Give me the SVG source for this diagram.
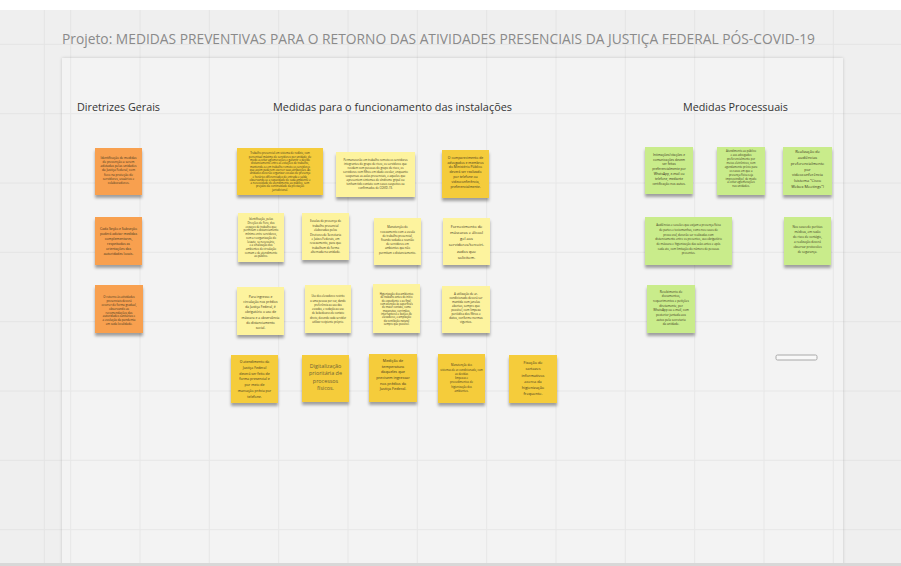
<svg xmlns="http://www.w3.org/2000/svg" width="901" height="566" viewBox="0 0 901 566">
<defs>
<style>
.o{fill:#f8a04f}.d{fill:#f5cc3a}.l{fill:#fdf39e}.g{fill:#c9ec8b}
.n{filter:url(#sh)}
.t{font-family:"Open Sans","DejaVu Sans",sans-serif;fill:#3b3421;text-anchor:middle}
.h{font-family:"Open Sans","DejaVu Sans",sans-serif;fill:#333;font-size:11.5px}
.grid{stroke:#e4e4e4;stroke-width:1}
</style>
<filter id="sh" x="-20%" y="-20%" width="140%" height="160%"><feDropShadow dx="0" dy="3" stdDeviation="1.6" flood-color="#000" flood-opacity="0.35"/></filter>
<filter id="bsh" x="-5%" y="-5%" width="110%" height="110%"><feDropShadow dx="0" dy="0" stdDeviation="1.5" flood-color="#000" flood-opacity="0.18"/></filter>
</defs>
<rect x="0" y="0" width="901" height="566" fill="#efefef"/>
<rect x="0" y="0" width="901" height="10" fill="#ffffff"/>
<g id="grid" class="grid">
<path d="M70.7 10V566M140 10V566M209.3 10V566M278.7 10V566M348 10V566M417.3 10V566M486.7 10V566M556 10V566M625.3 10V566M694.7 10V566M764 10V566M833.3 10V566M44.3 10V566"/>
<path d="M0 44.3H901M0 113.7H901M0 183H901M0 252.3H901M0 321.7H901M0 391H901M0 460.3H901M0 529.7H901"/>
</g>
<text x="62" y="44" font-family="Open Sans, DejaVu Sans, sans-serif" font-size="15" fill="#8a8a8a" textLength="753" lengthAdjust="spacingAndGlyphs">Projeto: MEDIDAS PREVENTIVAS PARA O RETORNO DAS ATIVIDADES PRESENCIAIS DA JUSTIÇA FEDERAL PÓS-COVID-19</text>
<g id="board">
<rect x="62" y="58" width="781" height="520" fill="#f3f3f3" filter="url(#bsh)"/>
<g class="grid" opacity="0.8">
<path d="M70.7 58V566M140 58V566M209.3 58V566M278.7 58V566M348 58V566M417.3 58V566M486.7 58V566M556 58V566M625.3 58V566M694.7 58V566M764 58V566M833.3 58V566"/>
<path d="M62 113.7H843M62 183H843M62 252.3H843M62 321.7H843M62 391H843M62 460.3H843M62 529.7H843"/>
</g>
</g>
<rect x="0" y="563" width="901" height="3" fill="#d8d8d8"/>
<g id="headers">
<text class="h" x="77" y="111" textLength="83" lengthAdjust="spacingAndGlyphs">Diretrizes Gerais</text>
<text class="h" x="273" y="111" textLength="239" lengthAdjust="spacingAndGlyphs">Medidas para o funcionamento das instalações</text>
<text class="h" x="683" y="111" textLength="105" lengthAdjust="spacingAndGlyphs">Medidas Processuais</text>
</g>
<g id="connectors"></g>

<g id="o1"><rect class="n o" x="95" y="148" width="47" height="47"/>
<text class="t" font-size="3.1" x="118.5" y="158.5"><tspan x="118.5">Identificação de medidas</tspan><tspan x="118.5" dy="4.3">de prevenção a serem</tspan><tspan x="118.5" dy="4.3">adotadas pelas unidades</tspan><tspan x="118.5" dy="4.3">da Justiça Federal, com</tspan><tspan x="118.5" dy="4.3">foco na proteção de</tspan><tspan x="118.5" dy="4.3">servidores, usuários e</tspan><tspan x="118.5" dy="4.3">colaboradores.</tspan></text></g>
<g id="o2"><rect class="n o" x="95" y="217" width="47" height="48"/>
<text class="t" font-size="3.4" x="118.5" y="229.8"><tspan x="118.5">Cada Seção e Subseção</tspan><tspan x="118.5" dy="5">poderá adotar medidas</tspan><tspan x="118.5" dy="5">complementares,</tspan><tspan x="118.5" dy="5">respeitadas as</tspan><tspan x="118.5" dy="5">orientações das</tspan><tspan x="118.5" dy="5">autoridades locais.</tspan></text></g>
<g id="o3"><rect class="n o" x="95" y="285" width="48" height="48"/>
<text class="t" font-size="2.9" x="119" y="298.4"><tspan x="119">O retorno às atividades</tspan><tspan x="119" dy="3.8">presenciais deverá</tspan><tspan x="119" dy="3.8">ocorrer de forma gradual,</tspan><tspan x="119" dy="3.8">observando as</tspan><tspan x="119" dy="3.8">recomendações das</tspan><tspan x="119" dy="3.8">autoridades sanitárias e</tspan><tspan x="119" dy="3.8">a evolução da pandemia</tspan><tspan x="119" dy="3.8">em cada localidade.</tspan></text></g>

<g id="y1"><rect class="n d" x="237" y="148" width="86" height="47"/>
<text class="t" font-size="2.7" x="280" y="154.4"><tspan x="280">Trabalho presencial em sistema de rodízio, com</tspan><tspan x="280" dy="3.3">percentual máximo de servidores por unidade, de</tspan><tspan x="280" dy="3.3">modo a evitar aglomerações e garantir o devido</tspan><tspan x="280" dy="3.3">distanciamento entre as estações de trabalho,</tspan><tspan x="280" dy="3.3">mantendo-se em trabalho remoto os servidores</tspan><tspan x="280" dy="3.3">que assim puderem exercer suas atribuições. As</tspan><tspan x="280" dy="3.3">unidades deverão organizar escalas de presença</tspan><tspan x="280" dy="3.3">e horários diferenciados de entrada e saída,</tspan><tspan x="280" dy="3.3">observando-se a capacidade de cada ambiente e</tspan><tspan x="280" dy="3.3">a necessidade de atendimento ao público, sem</tspan><tspan x="280" dy="3.3">prejuízo da continuidade da prestação</tspan><tspan x="280" dy="3.3">jurisdicional.</tspan></text></g>
<g id="ly1"><rect class="n l" x="336" y="152" width="79" height="45"/>
<text class="t" font-size="2.8" x="375.5" y="161.3"><tspan x="375.5">Permanecerão em trabalho remoto os servidores</tspan><tspan x="375.5" dy="4">integrantes do grupo de risco, os servidores que</tspan><tspan x="375.5" dy="4">residam com pessoas do grupo de risco, os</tspan><tspan x="375.5" dy="4">servidores com filhos em idade escolar, enquanto</tspan><tspan x="375.5" dy="4">suspensas as aulas presenciais, e aqueles que</tspan><tspan x="375.5" dy="4">apresentem sintomas de síndrome gripal ou</tspan><tspan x="375.5" dy="4">tenham tido contato com casos suspeitos ou</tspan><tspan x="375.5" dy="4">confirmados de COVID-19.</tspan></text></g>
<g id="y2"><rect class="n d" x="442" y="150" width="47" height="48"/>
<text class="t" font-size="3.4" x="465.5" y="158.8"><tspan x="465.5">O comparecimento de</tspan><tspan x="465.5" dy="4.8">advogados e membros</tspan><tspan x="465.5" dy="4.8">do Ministério Público</tspan><tspan x="465.5" dy="4.8">deverá ser realizado</tspan><tspan x="465.5" dy="4.8">por telefone ou</tspan><tspan x="465.5" dy="4.8">videoconferência,</tspan><tspan x="465.5" dy="4.8">preferencialmente.</tspan></text></g>

<g id="l1"><rect class="n l" x="238" y="213" width="46" height="49"/>
<text class="t" font-size="2.7" x="261" y="220.3"><tspan x="261">Identificação, pelas</tspan><tspan x="261" dy="3.7">Direções de Foro, dos</tspan><tspan x="261" dy="3.7">espaços de trabalho que</tspan><tspan x="261" dy="3.7">permitam o distanciamento</tspan><tspan x="261" dy="3.7">mínimo entre servidores,</tspan><tspan x="261" dy="3.7">com a reorganização do</tspan><tspan x="261" dy="3.7">leiaute, se necessário,</tspan><tspan x="261" dy="3.7">e a sinalização dos</tspan><tspan x="261" dy="3.7">ambientes de circulação</tspan><tspan x="261" dy="3.7">comum e de atendimento</tspan><tspan x="261" dy="3.7">ao público.</tspan></text></g>
<g id="l2"><rect class="n l" x="302" y="213" width="47" height="47"/>
<text class="t" font-size="2.9" x="325.5" y="222.4"><tspan x="325.5">Escalas de presença de</tspan><tspan x="325.5" dy="4.4">trabalho presencial</tspan><tspan x="325.5" dy="4.4">elaboradas pelos</tspan><tspan x="325.5" dy="4.4">Diretores de Secretaria</tspan><tspan x="325.5" dy="4.4">e Juízes Federais, em</tspan><tspan x="325.5" dy="4.4">revezamento, para que</tspan><tspan x="325.5" dy="4.4">trabalhem de forma</tspan><tspan x="325.5" dy="4.4">alternada na unidade.</tspan></text></g>
<g id="l3"><rect class="n l" x="374" y="218" width="47" height="47"/>
<text class="t" font-size="2.8" x="397.5" y="228.4"><tspan x="397.5">Manutenção do</tspan><tspan x="397.5" dy="4.2">revezamento com a escala</tspan><tspan x="397.5" dy="4.2">de trabalho presencial,</tspan><tspan x="397.5" dy="4.2">ficando vedada a reunião</tspan><tspan x="397.5" dy="4.2">de servidores em</tspan><tspan x="397.5" dy="4.2">ambientes que não</tspan><tspan x="397.5" dy="4.2">permitam o distanciamento.</tspan></text></g>
<g id="l4"><rect class="n l" x="443" y="218" width="47" height="47"/>
<text class="t" font-size="4" x="466.5" y="227.5"><tspan x="466.5">Fornecimento de</tspan><tspan x="466.5" dy="6.3">máscaras e álcool</tspan><tspan x="466.5" dy="6.3">gel aos</tspan><tspan x="466.5" dy="6.3">servidores/terceiri-</tspan><tspan x="466.5" dy="6.3">zados que</tspan><tspan x="466.5" dy="6.3">solicitem.</tspan></text></g>

<g id="m1"><rect class="n l" x="237" y="287" width="47" height="48"/>
<text class="t" font-size="3.3" x="260.5" y="297.8"><tspan x="260.5">Para ingresso e</tspan><tspan x="260.5" dy="5.2">circulação nos prédios</tspan><tspan x="260.5" dy="5.2">da Justiça Federal, é</tspan><tspan x="260.5" dy="5.2">obrigatório o uso de</tspan><tspan x="260.5" dy="5.2">máscara e a observância</tspan><tspan x="260.5" dy="5.2">do distanciamento</tspan><tspan x="260.5" dy="5.2">social.</tspan></text></g>
<g id="m2"><rect class="n l" x="305" y="285" width="46" height="48"/>
<text class="t" font-size="2.6" x="328" y="297.2"><tspan x="328">Uso dos elevadores restrito</tspan><tspan x="328" dy="4.3">a uma pessoa por vez, dando</tspan><tspan x="328" dy="4.3">preferência ao uso das</tspan><tspan x="328" dy="4.3">escadas, e vedação ao uso</tspan><tspan x="328" dy="4.3">de bebedouros de contato</tspan><tspan x="328" dy="4.3">direto, devendo cada servidor</tspan><tspan x="328" dy="4.3">utilizar recipiente próprio.</tspan></text></g>
<g id="m3"><rect class="n l" x="373" y="284" width="47" height="49"/>
<text class="t" font-size="2.6" x="396.5" y="295.1"><tspan x="396.5">Higienização dos ambientes</tspan><tspan x="396.5" dy="3.3">de trabalho antes do início</tspan><tspan x="396.5" dy="3.3">do expediente e ao final,</tspan><tspan x="396.5" dy="3.3">com atenção às superfícies</tspan><tspan x="396.5" dy="3.3">de maior contato, como</tspan><tspan x="396.5" dy="3.3">maçanetas, corrimãos,</tspan><tspan x="396.5" dy="3.3">interruptores e botões de</tspan><tspan x="396.5" dy="3.3">elevadores, e ampliação</tspan><tspan x="396.5" dy="3.3">da ventilação natural</tspan><tspan x="396.5" dy="3.3">sempre que possível.</tspan></text></g>
<g id="m4"><rect class="n l" x="442" y="286" width="48" height="47"/>
<text class="t" font-size="2.9" x="466" y="295.3"><tspan x="466">A utilização de ar-</tspan><tspan x="466" dy="4">condicionado deverá ser</tspan><tspan x="466" dy="4">mantida com janelas</tspan><tspan x="466" dy="4">abertas, sempre que</tspan><tspan x="466" dy="4">possível, com limpeza</tspan><tspan x="466" dy="4">periódica dos filtros e</tspan><tspan x="466" dy="4">dutos, conforme normas</tspan><tspan x="466" dy="4">vigentes.</tspan></text></g>

<g id="n1"><rect class="n d" x="231" y="355" width="47" height="48"/>
<text class="t" font-size="3.5" x="254.5" y="362.9"><tspan x="254.5">O atendimento da</tspan><tspan x="254.5" dy="5.8">Justiça Federal</tspan><tspan x="254.5" dy="5.8">deverá ser feito de</tspan><tspan x="254.5" dy="5.8">forma presencial e</tspan><tspan x="254.5" dy="5.8">por meio de</tspan><tspan x="254.5" dy="5.8">marcação prévia por</tspan><tspan x="254.5" dy="5.8">telefone.</tspan></text></g>
<g id="n2"><rect class="n d" x="302" y="355" width="47" height="47"/>
<text class="t" font-size="5.4" x="325.5" y="367.6" fill="#6e6236" style="fill:#6e6236"><tspan x="325.5">Digitalização</tspan><tspan x="325.5" dy="7.6">prioritária de</tspan><tspan x="325.5" dy="7.6">processos</tspan><tspan x="325.5" dy="7.6">físicos.</tspan></text></g>
<g id="n3"><rect class="n d" x="369" y="354" width="48" height="48"/>
<text class="t" font-size="3.8" x="393" y="362.2"><tspan x="393">Medição de</tspan><tspan x="393" dy="5.6">temperatura</tspan><tspan x="393" dy="5.6">daqueles que</tspan><tspan x="393" dy="5.6">precisem ingressar</tspan><tspan x="393" dy="5.6">nos prédios da</tspan><tspan x="393" dy="5.6">Justiça Federal.</tspan></text></g>
<g id="n4"><rect class="n d" x="438" y="354" width="47" height="49"/>
<text class="t" font-size="2.7" x="461.5" y="366.2"><tspan x="461.5">Manutenção dos</tspan><tspan x="461.5" dy="4.3">sistemas de ar-condicionado, com</tspan><tspan x="461.5" dy="4.3">as devidas</tspan><tspan x="461.5" dy="4.3">limpezas e</tspan><tspan x="461.5" dy="4.3">procedimentos de</tspan><tspan x="461.5" dy="4.3">higienização dos</tspan><tspan x="461.5" dy="4.3">ambientes.</tspan></text></g>
<g id="n5"><rect class="n d" x="509" y="355" width="48" height="48"/>
<text class="t" font-size="3.9" x="533" y="364.2"><tspan x="533">Fixação de</tspan><tspan x="533" dy="6.2">cartazes</tspan><tspan x="533" dy="6.2">informativos</tspan><tspan x="533" dy="6.2">acerca da</tspan><tspan x="533" dy="6.2">higienização</tspan><tspan x="533" dy="6.2">frequente.</tspan></text></g>

<g id="g1"><rect class="n g" x="645" y="147" width="48" height="47"/>
<text class="t" font-size="3.2" x="669" y="155.6"><tspan x="669">Intimações/citações e</tspan><tspan x="669" dy="4.9">comunicações devem</tspan><tspan x="669" dy="4.9">ser feitas</tspan><tspan x="669" dy="4.9">preferencialmente por</tspan><tspan x="669" dy="4.9">WhatsApp, e-mail ou</tspan><tspan x="669" dy="4.9">telefone, mediante</tspan><tspan x="669" dy="4.9">certificação nos autos.</tspan></text></g>
<g id="g2"><rect class="n g" x="717" y="147" width="48" height="48"/>
<text class="t" font-size="2.7" x="741" y="152.2"><tspan x="741">Atendimento ao público</tspan><tspan x="741" dy="3.9">e aos advogados</tspan><tspan x="741" dy="3.9">preferencialmente por</tspan><tspan x="741" dy="3.9">meios eletrônicos, com</tspan><tspan x="741" dy="3.9">agendamento prévio para</tspan><tspan x="741" dy="3.9">os casos em que a</tspan><tspan x="741" dy="3.9">presença física seja</tspan><tspan x="741" dy="3.9">imprescindível, de modo</tspan><tspan x="741" dy="3.9">a evitar aglomerações</tspan><tspan x="741" dy="3.9">nas unidades.</tspan></text></g>
<g id="g3"><rect class="n g" x="783" y="147" width="49" height="48"/>
<text class="t" font-size="3.9" x="807.5" y="153.2"><tspan x="807.5">Realização de</tspan><tspan x="807.5" dy="5.8">audiências</tspan><tspan x="807.5" dy="5.8">preferencialmente</tspan><tspan x="807.5" dy="5.8">por</tspan><tspan x="807.5" dy="5.8">videoconferência</tspan><tspan x="807.5" dy="5.8">(sistema "Cisco</tspan><tspan x="807.5" dy="5.8">Webex Meetings")</tspan></text></g>
<g id="g4"><rect class="n g" x="645" y="217" width="87" height="48"/>
<text class="t" font-size="2.8" x="688.5" y="226.2"><tspan x="688.5">Audiências e sessões que exijam a presença física</tspan><tspan x="688.5" dy="4.7">de partes e testemunhas, como nos casos de</tspan><tspan x="688.5" dy="4.7">prova oral, deverão ser realizadas com</tspan><tspan x="688.5" dy="4.7">distanciamento entre os presentes, uso obrigatório</tspan><tspan x="688.5" dy="4.7">de máscara e higienização das salas antes e após</tspan><tspan x="688.5" dy="4.7">cada ato, com limitação do número de pessoas</tspan><tspan x="688.5" dy="4.7">presentes.</tspan></text></g>
<g id="g5"><rect class="n g" x="784" y="217" width="47" height="48"/>
<text class="t" font-size="3" x="807.5" y="228.4"><tspan x="807.5">Nos casos de perícias</tspan><tspan x="807.5" dy="5">médicas, em razão</tspan><tspan x="807.5" dy="5">do risco de contágio,</tspan><tspan x="807.5" dy="5">a realização deverá</tspan><tspan x="807.5" dy="5">observar protocolos</tspan><tspan x="807.5" dy="5">de segurança.</tspan></text></g>
<g id="g6"><rect class="n g" x="647" y="285" width="48" height="48"/>
<text class="t" font-size="3" x="671" y="292.5"><tspan x="671">Recebimento de</tspan><tspan x="671" dy="4.7">documentos,</tspan><tspan x="671" dy="4.7">requerimentos e petições</tspan><tspan x="671" dy="4.7">diretamente, por</tspan><tspan x="671" dy="4.7">WhatsApp ou e-mail, com</tspan><tspan x="671" dy="4.7">posterior juntada aos</tspan><tspan x="671" dy="4.7">autos pela secretaria</tspan><tspan x="671" dy="4.7">da unidade.</tspan></text></g>

<g id="bar"><rect x="776" y="355" width="41" height="5" rx="1.5" fill="#f8f8f8" stroke="#a8a8a8" stroke-width="1"/></g>
</svg>
